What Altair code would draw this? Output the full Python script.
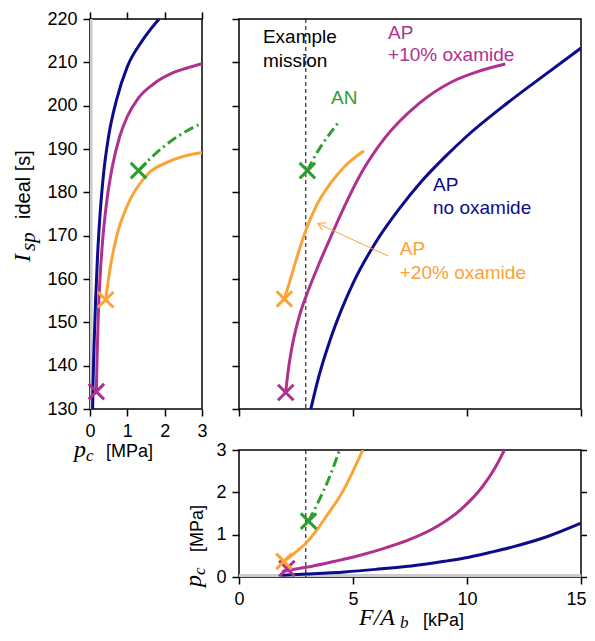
import altair as alt
import pandas as pd

# ---------------- data ----------------
# Top-left panel: Isp (s) versus chamber pressure pc (MPa)
tl_blue_pc = [0.07, 0.08, 0.11, 0.15, 0.20, 0.27, 0.36, 0.50, 0.70, 1.00, 1.40, 1.85]
tl_blue_isp = [130, 135, 145, 155, 165, 175, 184, 193, 201, 209, 215, 220]
tl_mag_pc = [0.17, 0.19, 0.22, 0.26, 0.33, 0.45, 0.60, 0.80, 1.00, 1.30, 1.70, 2.20, 2.60, 3.00]
tl_mag_isp = [134, 142, 151, 159, 168, 178, 186, 193, 197.5, 201.8, 205, 207.5, 208.7, 209.7]
tl_org_pc = [0.42, 0.53, 0.71, 1.02, 1.46, 2.17, 3.00]
tl_org_isp = [155.2, 162, 169.7, 177.3, 183.4, 187.3, 189.2]
tl_grn_pc = [1.30, 1.70, 2.20, 2.60, 3.00]
tl_grn_isp = [185, 188.5, 192, 194.2, 196]

# Top-right panel: Isp (s) versus F/Ab (kPa)
tr_blue_fa = [3.15, 3.5, 4.0, 4.5, 5.0, 6.0, 7.0, 8.0, 9.0, 10.0, 11.5, 13.0, 15.0]
tr_blue_isp = [130, 137.5, 146, 153, 159, 168.5, 176, 182.5, 188, 193, 199.5, 205.5, 213.3]
tr_mag_fa = [2.05, 2.15, 2.35, 2.65, 3.05, 3.55, 4.09, 4.63, 5.37, 6.39, 7.85, 9.3, 10.5, 11.68]
tr_mag_isp = [133.9, 138.5, 145, 151.5, 157.5, 164, 170.5, 176.8, 184.5, 192.5, 200.3, 205.4, 207.9, 209.6]
tr_org_fa = [1.99, 2.2, 2.5, 2.9, 3.4, 4.0, 4.6, 5.48]
tr_org_isp = [155.4, 159.0, 164.3, 170.8, 177.0, 182.0, 185.8, 189.6]
tr_grn_fa = [3.0, 3.4, 3.8, 4.42]
tr_grn_isp = [185, 189, 192.2, 196.5]

# Bottom-right panel: pc (MPa) versus F/Ab (kPa)
br_blue_fa = [1.86, 3.0, 4.63, 6.0, 7.55, 9.0, 9.89, 11.0, 11.93, 13.5, 15.0]
br_blue_pc = [0.04, 0.07, 0.12, 0.18, 0.26, 0.37, 0.45, 0.58, 0.70, 0.95, 1.27]
br_mag_fa = [1.9, 2.5, 3.17, 4.2, 5.36, 6.5, 7.55, 8.7, 9.74, 10.7, 11.2, 11.64]
br_mag_pc = [0.13, 0.19, 0.25, 0.37, 0.52, 0.70, 0.90, 1.20, 1.60, 2.15, 2.55, 3.0]
br_org_fa = [1.97, 2.4, 2.92, 3.4, 3.9, 4.3, 4.63, 5.0, 5.43]
br_org_pc = [0.37, 0.55, 0.79, 1.10, 1.49, 1.80, 2.10, 2.50, 3.0]
br_grn_fa = [3.05, 3.5, 4.0, 4.41]
br_grn_pc = [1.32, 1.80, 2.40, 3.0]

# start-point markers (x) : magenta, orange, green
tl_mark_pc = [0.17, 0.42, 1.30]
tl_mark_isp = [134, 155.2, 185]
tr_mark_fa = [2.05, 1.99, 3.0]
tr_mark_isp = [133.8, 155.4, 185]
br_mark_fa = [2.1, 1.97, 3.05]
br_mark_pc = [0.2, 0.37, 1.32]

example_mission_fa = [2.93]
low_pc_band = [0.0, 0.07]

isp_ticks = [130, 140, 150, 160, 170, 180, 190, 200, 210, 220]
pc_ticks = [0, 1, 2, 3]
fa_ticks = [0, 5, 10, 15]

# ---------------- style ----------------
BLUE = "#0c0c8c"
MAG = "#b0308f"
ORG = "#fca336"
GRN = "#2e9e2e"
SANS = "Liberation Sans"
SERIF = "Liberation Serif"
XPATH = "M-1,-1L1,1M-1,1L1,-1"
DASHDOT = [10, 4, 2, 4]
TOP_H = 390
BOT_H = 127


def curve(xs, ys):
    return pd.DataFrame({"x": xs, "y": ys, "i": list(range(len(xs)))})


def ax(orient, values, labels=True, pad=8, **extra):
    return alt.Axis(orient=orient, values=values, labels=labels, ticks=True,
                    tickSize=7, tickWidth=1.5, tickColor="black", domain=False,
                    grid=False, title=None, labelFont=SANS, labelFontSize=18,
                    labelColor="black", labelPadding=pad, labelFlush=False, **extra)


def panel(xdom, ydom, w, h, axes, lines, marks, extras):
    xs = alt.Scale(domain=xdom, nice=False, zero=False)
    ys = alt.Scale(domain=ydom, nice=False, zero=False)
    layers = []
    for ex in extras.get("under", []):
        layers.append(ex(xs, ys))
    for df, color, dash in lines:
        kw = dict(color=color, strokeWidth=3, interpolate="monotone", clip=True)
        if dash:
            kw["strokeDash"] = dash
        layers.append(alt.Chart(df).mark_line(**kw).encode(
            x=alt.X("x:Q", scale=xs, axis=None),
            y=alt.Y("y:Q", scale=ys, axis=None),
            order="i:Q"))
    if marks is not None:
        layers.append(alt.Chart(marks).mark_point(
            shape=XPATH, size=240, strokeWidth=3, filled=False, opacity=1).encode(
            x=alt.X("x:Q", scale=xs, axis=None),
            y=alt.Y("y:Q", scale=ys, axis=None),
            stroke=alt.Stroke("c:N", scale=None)))
    for ex in extras.get("over", []):
        layers.append(ex(xs, ys))
    dummy = pd.DataFrame({"x": [xdom[0]], "y": [ydom[0]]})
    for ch, a in axes:
        if ch == "x":
            enc = dict(x=alt.X("x:Q", scale=xs, axis=a), y=alt.Y("y:Q", scale=ys, axis=None))
        else:
            enc = dict(x=alt.X("x:Q", scale=xs, axis=None), y=alt.Y("y:Q", scale=ys, axis=a))
        layers.append(alt.Chart(dummy).mark_point(opacity=0).encode(**enc))
    return alt.layer(*layers).resolve_axis(x="independent", y="independent").properties(
        width=w, height=h)


def label(text, x, y, font=SANS, size=18, italic=False, angle=0, color="black"):
    def f(xs, ys):
        kw = dict(font=font, fontSize=size, align="left", baseline="alphabetic",
                  color=color)
        if italic:
            kw["fontStyle"] = "italic"
        if angle:
            kw["angle"] = angle
        return alt.Chart(pd.DataFrame({"t": [text]})).mark_text(**kw).encode(
            text="t:N", x=alt.value(x), y=alt.value(y))
    return f


def data_text(rows):
    df = pd.DataFrame(rows, columns=["t", "x", "y", "c"])

    def f(xs, ys):
        return alt.Chart(df).mark_text(font=SANS, fontSize=19, align="left",
                                       baseline="alphabetic").encode(
            text="t:N", x=alt.X("x:Q", scale=xs, axis=None),
            y=alt.Y("y:Q", scale=ys, axis=None), color=alt.Color("c:N", scale=None))
    return f


def vrule(xs, ys):
    return alt.Chart(pd.DataFrame({"x": example_mission_fa})).mark_rule(
        strokeDash=[4, 3], strokeWidth=1, color="black").encode(
        x=alt.X("x:Q", scale=xs, axis=None))


def tl_band(xs, ys):
    return alt.Chart(pd.DataFrame({"a": [low_pc_band[0]], "b": [low_pc_band[1]]})).mark_rect(
        color="#cccccc").encode(x=alt.X("a:Q", scale=xs, axis=None), x2="b:Q",
                                y=alt.value(0), y2=alt.value(TOP_H))


def br_band(xs, ys):
    return alt.Chart(pd.DataFrame({"a": [low_pc_band[0]], "b": [low_pc_band[1]]})).mark_rect(
        color="#cccccc").encode(y=alt.Y("a:Q", scale=ys, axis=None), y2="b:Q",
                                x=alt.value(0), x2=alt.value(342))


def arrow(xs, ys):
    line = alt.Chart(pd.DataFrame({"x": [6.54, 3.46], "y": [165.3, 172.8], "i": [0, 1]})).mark_line(
        color=ORG, strokeWidth=1).encode(
        x=alt.X("x:Q", scale=xs, axis=None), y=alt.Y("y:Q", scale=ys, axis=None), order="i:Q")
    head = alt.Chart(pd.DataFrame({"x": [3.46], "y": [172.8]})).mark_point(
        shape="M-1,-0.6L0,0L-1,0.6", size=200, strokeWidth=1, filled=False,
        color=ORG, opacity=1, angle=205).encode(
        x=alt.X("x:Q", scale=xs, axis=None), y=alt.Y("y:Q", scale=ys, axis=None))
    return alt.layer(line, head)


def marks_df(xs, ys):
    return pd.DataFrame({"x": xs, "y": ys, "c": [MAG, ORG, GRN]})


# ---------------- panels ----------------
tl = panel(
    [0, 3], [130, 220], 112, TOP_H,
    [("y", ax("left", isp_ticks, pad=6)), ("x", ax("bottom", pc_ticks, pad=6)),
     ("x", ax("top", pc_ticks, labels=False))],
    [(curve(tl_blue_pc, tl_blue_isp), BLUE, None),
     (curve(tl_mag_pc, tl_mag_isp), MAG, None),
     (curve(tl_org_pc, tl_org_isp), ORG, None),
     (curve(tl_grn_pc, tl_grn_isp), GRN, DASHDOT)],
    marks_df(tl_mark_pc, tl_mark_isp),
    {"under": [tl_band],
     "over": [label("I", -60, 243, font=SERIF, size=24, italic=True, angle=270),
              label("sp", -55, 232, font=SERIF, size=21, italic=True, angle=270),
              label("ideal [s]", -60, 200, size=20, angle=270),
              label("p", -16, 438, font=SERIF, size=24, italic=True),
              label("c", -4, 442, font=SERIF, size=17, italic=True),
              label("[MPa]", 16, 438, size=18)]})

tr = panel(
    [0, 15], [130, 220], 342, TOP_H,
    [("y", ax("left", isp_ticks, labels=False)), ("x", ax("bottom", fa_ticks, labels=False))],
    [(curve(tr_blue_fa, tr_blue_isp), BLUE, None),
     (curve(tr_mag_fa, tr_mag_isp), MAG, None),
     (curve(tr_org_fa, tr_org_isp), ORG, None),
     (curve(tr_grn_fa, tr_grn_isp), GRN, DASHDOT)],
    marks_df(tr_mark_fa, tr_mark_isp),
    {"under": [vrule],
     "over": [arrow,
              data_text([
                  ("Example", 1.05, 214.4, "black"), ("mission", 1.05, 209.0, "black"),
                  ("AP", 6.54, 215.5, MAG), ("+10% oxamide", 6.54, 210.2, MAG),
                  ("AN", 4.04, 200.3, GRN),
                  ("AP", 8.51, 180.4, BLUE), ("no oxamide", 8.51, 175.1, BLUE),
                  ("AP", 7.05, 165.5, ORG), ("+20% oxamide", 7.05, 159.9, ORG)])]})

br = panel(
    [0, 15], [0, 3], 342, BOT_H,
    [("y", ax("left", pc_ticks, pad=6)), ("y", ax("right", pc_ticks, labels=False)),
     ("x", ax("bottom", fa_ticks, pad=6,
              labelOffset={"condition": {"test": "datum.value == 15", "value": -5},
                           "value": 0}))],
    [(curve(br_blue_fa, br_blue_pc), BLUE, None),
     (curve(br_mag_fa, br_mag_pc), MAG, None),
     (curve(br_org_fa, br_org_pc), ORG, None),
     (curve(br_grn_fa, br_grn_pc), GRN, DASHDOT)],
    marks_df(br_mark_fa, br_mark_pc),
    {"under": [br_band, vrule],
     "over": [label("p", -38, 137, font=SERIF, size=24, italic=True, angle=270),
              label("c", -34, 125, font=SERIF, size=17, italic=True, angle=270),
              label("[MPa]", -36, 102, size=18, angle=270),
              label("F/A", 120, 175, font=SERIF, size=24, italic=True),
              label("b", 161, 178, font=SERIF, size=17, italic=True),
              label("[kPa]", 184, 176, size=18)]})

empty = alt.Chart(pd.DataFrame({"x": [0], "y": [0]})).mark_point(opacity=0).encode(
    x=alt.X("x:Q", axis=None), y=alt.Y("y:Q", axis=None)).properties(
    width=112, height=BOT_H, view=alt.ViewBackground(strokeOpacity=0))

chart = alt.concat(tl, tr, empty, br, columns=2,
                   spacing={"row": 41, "column": 37}, bounds="flush", align="each").configure_view(
    stroke="black", strokeWidth=1.5).properties(
    padding={"left": 2, "top": 1, "right": -3, "bottom": -1}, background="white")

chart.save("out.html", embed_options={"renderer": "svg", "actions": False})
